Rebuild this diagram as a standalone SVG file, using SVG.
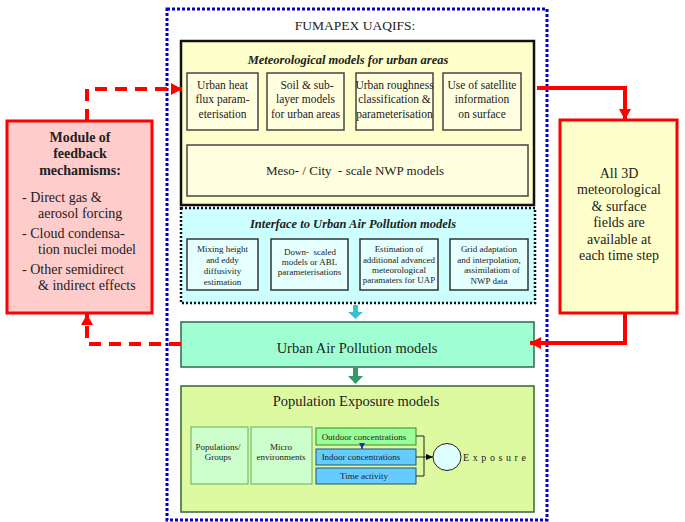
<svg xmlns="http://www.w3.org/2000/svg" width="685" height="522" viewBox="0 0 685 522" font-family="'Liberation Serif', 'DejaVu Serif', serif">
<defs>
<style>
text{font-family:'Liberation Serif','DejaVu Serif',serif;fill:#222}
.c{text-anchor:middle}
.sub{fill:#FFFFE0;stroke:#444;stroke-width:1.5}
.isub{fill:#E6FFFF;stroke:#333;stroke-width:1.5}
.t11{font-size:11.5px}
.t9{font-size:9px}
.t14{font-size:14px}
.hd{font-size:12.5px;font-weight:bold;font-style:italic}
.red{fill:none;stroke:#FF0000;stroke-width:4}
.dash{stroke-dasharray:12,8}
</style>
<marker id="ra" markerUnits="userSpaceOnUse" markerWidth="11" markerHeight="12" refX="11" refY="6" orient="auto">
<path d="M0,0 L11,6 L0,12 z" fill="#FF0000"/>
</marker>
<marker id="ka" markerUnits="userSpaceOnUse" markerWidth="7" markerHeight="6" refX="7" refY="3" orient="auto">
<path d="M0,0 L7,3 L0,6 z" fill="#000"/>
</marker>
<marker id="ba" markerUnits="userSpaceOnUse" markerWidth="6" markerHeight="6" refX="3" refY="6" orient="0">
<path d="M0,0 L6,0 L3,6 z" fill="#2233AA"/>
</marker>
</defs>
<rect width="685" height="522" fill="#fff"/>

<g id="outer">
<rect x="167" y="9" width="380" height="511" fill="none" stroke="#0000CC" stroke-width="3" stroke-dasharray="3,2"/>
<text x="355" y="30" class="c" font-size="13.5">FUMAPEX UAQIFS:</text>
</g>

<g id="meteo">
<rect x="181" y="41" width="353" height="164" fill="#FFFFCC" stroke="#111" stroke-width="2.5"/>
<text x="348" y="64" class="c hd">Meteorological models for urban areas</text>
<rect x="187" y="73" width="71" height="57" class="sub"/>
<text class="c t11" x="222.5" y="89">Urban heat</text>
<text class="c t11" x="222.5" y="103">flux param-</text>
<text class="c t11" x="222.5" y="118">eterisation</text>
<rect x="267" y="73" width="77" height="57" class="sub"/>
<text class="c t11" x="307" y="89">Soil &amp; sub-</text>
<text class="c t11" x="305.5" y="103">layer models</text>
<text class="c t11" x="305.5" y="118">for urban areas</text>
<rect x="356" y="73" width="77" height="57" class="sub"/>
<text class="c t11" x="394.5" y="89">Urban roughness</text>
<text class="c t11" x="394.5" y="103">classification &amp;</text>
<text class="c t11" x="394.5" y="118">parameterisation</text>
<rect x="443" y="73" width="78" height="57" class="sub"/>
<text class="c t11" x="482" y="89">Use of satellite</text>
<text class="c t11" x="482" y="103">information</text>
<text class="c t11" x="482" y="118">on surface</text>
<rect x="187" y="145" width="341" height="51" class="sub"/>
<text class="c" font-size="13" x="355" y="175">Meso- / City&#160; - scale NWP models</text>
</g>

<g id="interface">
<rect x="181" y="208" width="354" height="95" fill="#CCFFFF" stroke="#111" stroke-width="2.5" stroke-dasharray="2,2"/>
<text x="353" y="228" class="c hd">Interface to Urban Air Pollution models</text>
<rect x="187" y="239" width="71" height="51" class="isub"/>
<text class="c t9" x="222.5" y="252">Mixing height</text>
<text class="c t9" x="222.5" y="263">and eddy</text>
<text class="c t9" x="222.5" y="274">diffusivity</text>
<text class="c t9" x="222.5" y="285">estimation</text>
<rect x="271" y="239" width="77" height="51" class="isub"/>
<text class="c t9" x="310" y="255">Down-&#160; scaled</text>
<text class="c t9" x="309.5" y="265">models or ABL</text>
<text class="c t9" x="309.5" y="275">parameterisations</text>
<rect x="360" y="239" width="78" height="51" class="isub"/>
<text class="c t9" x="399" y="252">Estimation of</text>
<text class="c t9" x="399" y="263">additional advanced</text>
<text class="c t9" x="399" y="273">meteorological</text>
<text class="c t9" x="399" y="283">paramaters for UAP</text>
<rect x="450" y="239" width="78" height="51" class="isub"/>
<text class="c t9" x="489" y="252">Grid adaptation</text>
<text class="c t9" x="489" y="263">and interpolation,</text>
<text class="c t9" x="492" y="273">assimilatiom of</text>
<text class="c t9" x="489" y="284">NWP data</text>
</g>

<g id="uap">
<rect x="181" y="322" width="353" height="45" fill="#A0FFD2" stroke="#336655" stroke-width="1.5"/>
<text x="357" y="353" class="c" font-size="14.5">Urban Air Pollution models</text>
</g>

<g id="exposure">
<rect x="181" y="386" width="353" height="126" fill="#DDFAA0" stroke="#336633" stroke-width="1.5"/>
<text x="356" y="406" class="c" font-size="14.5">Population Exposure models</text>
<rect x="191" y="427" width="57" height="57" fill="#CCFFCC" stroke="#66AA66" stroke-width="1"/>
<text class="c t9" x="218" y="450">Populations/</text>
<text class="c t9" x="218" y="460">Groups</text>
<rect x="251" y="427" width="61" height="57" fill="#CCFFCC" stroke="#66AA66" stroke-width="1"/>
<text class="c t9" x="281" y="450">Micro</text>
<text class="c t9" x="281" y="460">environments</text>
<rect x="316" y="428" width="100" height="17" fill="#99FF99" stroke="#338833" stroke-width="1"/>
<text class="c t9" x="364" y="440">Outdoor concentrations</text>
<rect x="316" y="449" width="100" height="16" fill="#66CCFF" stroke="#225577" stroke-width="1"/>
<text class="c t9" x="361" y="460">Indoor concentrations</text>
<rect x="316" y="468" width="100" height="16" fill="#66CCFF" stroke="#225577" stroke-width="1"/>
<text class="c t9" x="364" y="479">Time activity</text>
<ellipse cx="447" cy="457" rx="14" ry="13.5" fill="#DDFFFF" stroke="#222" stroke-width="1"/>
<text x="463" y="461" font-size="10" letter-spacing="3.6">Exposure</text>
</g>

<g id="feedback">
<rect x="7" y="121" width="145" height="192" fill="#FFCCCC" stroke="#FF0000" stroke-width="3"/>
<text class="c t14" x="80" y="142" font-weight="bold">Module of</text>
<text class="c t14" x="80" y="158" font-weight="bold">feedback</text>
<text class="c t14" x="80" y="175" font-weight="bold">mechamisms:</text>
<text class="t14" x="22" y="202">- Direct gas &amp;</text>
<text class="t14" x="38" y="218">aerosol forcing</text>
<text class="t14" x="22" y="238">- Cloud condensa-</text>
<text class="t14" x="38" y="254">tion nuclei model</text>
<text class="t14" x="22" y="274">- Other semidirect</text>
<text class="t14" x="38" y="290">&amp; indirect effects</text>
</g>

<g id="fields">
<rect x="560" y="120" width="117" height="193" fill="#FFFFCC" stroke="#FF0000" stroke-width="3"/>
<text class="c t14" x="619" y="178">All 3D</text>
<text class="c t14" x="619" y="194">meteorological</text>
<text class="c t14" x="619" y="211">&amp; surface</text>
<text class="c t14" x="619" y="227">fields are</text>
<text class="c t14" x="619" y="244">available at</text>
<text class="c t14" x="619" y="260">each time step</text>
</g>

<g id="connectors">
<path class="red dash" d="M87,121 V89 H182" marker-end="url(#ra)"/>
<path class="red dash" d="M181,344 H87 V314" marker-end="url(#ra)"/>
<path class="red" d="M537,88 H625 V120" marker-end="url(#ra)"/>
<path class="red" d="M625,313 V343 H530" marker-end="url(#ra)"/>
<polygon points="353,305 358,305 358,312 363,312 355.5,319 348,312 353,312" fill="#33C4D4"/>
<polygon points="353,368 358,368 358,376 363,376 355.5,384 348,376 353,376" fill="#339966"/>
<path d="M362,444 V449" stroke="#2233AA" stroke-width="1.5" fill="none" marker-end="url(#ba)"/>
<path d="M416,436 H424 V476 H416" stroke="#222" stroke-width="1" fill="none"/>
<path d="M416,457 H433" stroke="#222" stroke-width="1" fill="none" marker-end="url(#ka)"/>
</g>
</svg>
